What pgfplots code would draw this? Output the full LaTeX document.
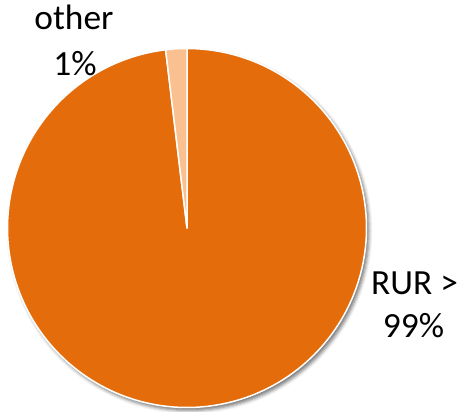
\documentclass[border=0pt]{standalone}
\usepackage{fontspec}
\setmainfont{Carlito}
\usepackage{pgfplots}
\pgfplotsset{compat=1.18}
\usepackage{pgfplotstable}
\usetikzlibrary{shadows.blur}
\definecolor{rur}{HTML}{E46C0A}
\definecolor{oth}{HTML}{FAC090}

\pgfplotstableread{
label value
RUR 98.1
other 1.9
}\pietable
\pgfplotstablegetelem{0}{value}\of\pietable \edef\vRUR{\pgfplotsretval}
\pgfplotstablegetelem{1}{value}\of\pietable \edef\vOther{\pgfplotsretval}
\pgfmathsetmacro\aStart{90}
\pgfmathsetmacro\aMid{90-3.6*\vRUR}
\pgfmathsetmacro\aEnd{\aMid-3.6*\vOther}
\def\cx{187}\def\cy{184}\def\R{179.5}

\begin{document}%
\begin{tikzpicture}
\begin{axis}[width=464bp, height=412bp, scale only axis, at={(0,0)}, anchor=south west,
  xmin=0, xmax=464, ymin=0, ymax=412, hide axis, clip=false,
  every axis plot/.append style={line join=round}]
% shadow
\addplot[draw=none, fill=white, samples=181, domain=0:360, variable=\t,
  blur shadow={shadow xshift=2.5bp, shadow yshift=-3bp, shadow blur radius=3.5bp, shadow opacity=55}]
  ({\cx+\R*cos(t)},{\cy+\R*sin(t)}) -- cycle;
% RUR slice
\addplot[fill=rur, draw=white, line width=1.5bp, samples=200, domain=\aMid:\aStart, variable=\t]
  ({\cx+\R*cos(t)},{\cy+\R*sin(t)}) -- (axis cs:\cx,\cy) -- cycle;
% other slice
\addplot[fill=oth, draw=white, line width=1.5bp, samples=20, domain=\aEnd:\aMid, variable=\t]
  ({\cx+\R*cos(t)},{\cy+\R*sin(t)}) -- (axis cs:\cx,\cy) -- cycle;
\node[anchor=base, font=\fontsize{35.5}{43}\selectfont] at (axis cs:74,382.7) {other};
\node[anchor=base, font=\fontsize{35.5}{43}\selectfont] at (axis cs:75,336.3) {1\%};
\node[anchor=base, font=\fontsize{35.5}{43}\selectfont] at (axis cs:414.5,117.7) {RUR >};
\node[anchor=base, font=\fontsize{35.5}{43}\selectfont] at (axis cs:413.5,74.7) {99\%};
\end{axis}
\pgfresetboundingbox
\path (0,0) rectangle (464bp,412bp);
\end{tikzpicture}%
\end{document}
